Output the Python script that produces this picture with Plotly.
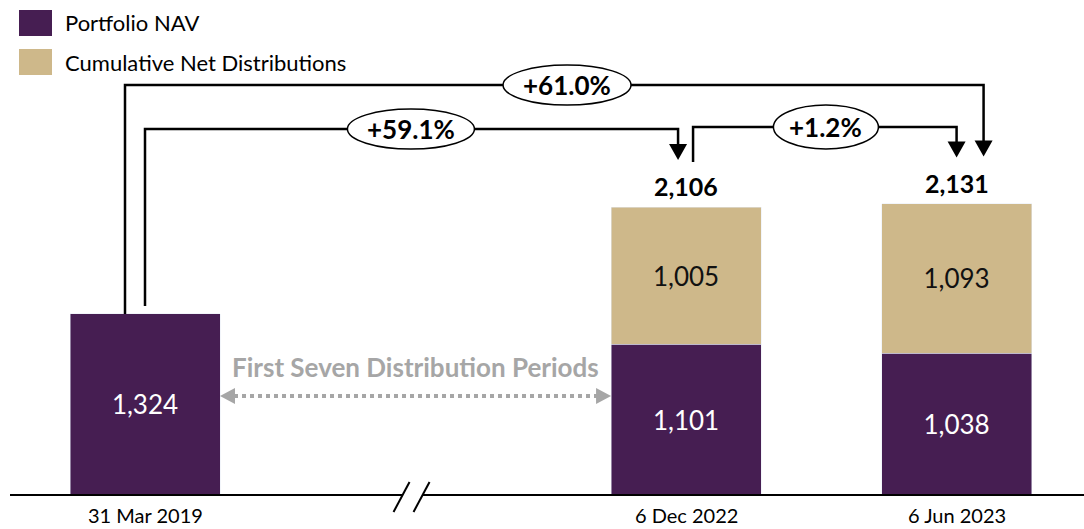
import plotly.graph_objects as go

# data
dates = ["31 Mar 2019", "6 Dec 2022", "6 Jun 2023"]
xpos = [0, 2, 3]
nav = [1324, 1101, 1038]
dist = [None, 1005, 1093]
totals = [1324, 2106, 2131]
changes = ["+59.1%", "+61.0%", "+1.2%"]

PURPLE = "#461E52"
TAN = "#CEB88A"
GREY = "#A6A6A6"
FONT = "Lato"

W, H = 1084, 529
# pixel -> data helpers (plot area = whole figure)
XR = [-0.536, 3.471]
YR = [-248.6, 3619.7]
dx = (XR[1] - XR[0]) / W      # data units per pixel, x
dy = (YR[1] - YR[0]) / H      # data units per pixel, y

fig = go.Figure()
fig.add_trace(go.Bar(
    x=xpos, y=nav, name="Portfolio NAV", marker_color=PURPLE, width=150 * dx,
    text=[f"{v:,}" for v in nav], textposition="inside", insidetextanchor="middle",
    textangle=0, textfont=dict(family=FONT, size=26, color="white"),
))
fig.add_trace(go.Bar(
    x=xpos, y=dist, name="Cumulative Net Distributions", marker_color=TAN, width=150 * dx,
    text=[f"{v:,}" if v else "" for v in dist], textposition="inside",
    insidetextanchor="middle", textangle=0,
    textfont=dict(family=FONT, size=26, color="#111111"),
))

shapes = []
ann = []

# baseline axis
shapes.append(dict(type="line", x0=XR[0] + 10 * dx, x1=XR[1], y0=0, y1=0,
                   line=dict(color="black", width=2)))
# axis break mark
bx = 1.0
shapes.append(dict(type="path",
                   path=f"M {bx - 22*dx} {-17*dy} L {bx - 6*dx} {13*dy} L {bx + 14*dx} {13*dy} "
                        f"L {bx - 2*dx} {-17*dy} Z",
                   fillcolor="white", line=dict(width=0)))
for off in (-22, -2):
    shapes.append(dict(type="line", x0=bx + off * dx, y0=-17 * dy,
                       x1=bx + (off + 16) * dx, y1=13 * dy,
                       line=dict(color="black", width=2)))

# date labels
for xp, d in zip(xpos, dates):
    ann.append(dict(x=xp, y=YR[0], yanchor="bottom", text=d, showarrow=False,
                    font=dict(family=FONT, size=20, color="black")))

# total labels
for xp, t in zip(xpos[1:], totals[1:]):
    ann.append(dict(x=xp, y=t + 21 * dy, text=f"<b>{t:,}</b>", showarrow=False,
                    font=dict(family=FONT, size=25, color="black")))

LINE = dict(color="black", width=2.5)


def arrow_down(x, ytip):
    shapes.append(dict(type="path",
                       path=f"M {x - 9*dx} {ytip + 16*dy} L {x + 9*dx} {ytip + 16*dy} L {x} {ytip} Z",
                       fillcolor="black", line=dict(width=0)))


def bracket(x0, ystart, level, x1, ytip):
    shapes.append(dict(type="path",
                       path=f"M {x0} {ystart} L {x0} {level} L {x1} {level} L {x1} {ytip + 15*dy}",
                       line=LINE))
    arrow_down(x1, ytip)


def bubble(xc, yc, w, h, label):
    shapes.append(dict(type="circle", x0=xc - w / 2 * dx, x1=xc + w / 2 * dx,
                       y0=yc - h / 2 * dy, y1=yc + h / 2 * dy,
                       fillcolor="white", line=dict(color="black", width=1.5)))
    ann.append(dict(x=xc, y=yc, text=f"<b>{label}</b>", showarrow=False,
                    font=dict(family=FONT, size=26, color="black")))


L61, L59, L12 = 2998, 2676, 2691
# +61.0%: 31 Mar 2019 -> 6 Jun 2023
bracket(xpos[0] - 20 * dx, totals[0], L61, xpos[2] + 27 * dx, totals[2] + 47 * dy)
# +59.1%: 31 Mar 2019 -> 6 Dec 2022
bracket(xpos[0], totals[0] + 8 * dy, L59, xpos[1] - 8 * dx, totals[1] + 47 * dy)
# +1.2%: 6 Dec 2022 -> 6 Jun 2023
bracket(xpos[1] + 7 * dx, totals[1] + 45 * dy, L12, xpos[2], totals[2] + 46 * dy)

bubble(1.560, L61, 128, 40, changes[1])
bubble(0.983, L59, 127, 40, changes[0])
bubble(2.517, L12, 105, 44, changes[2])

# grey dotted double arrow between periods
ya = 724
xa0 = xpos[0] + 75 * dx
xa1 = xpos[1] - 75 * dx
shapes.append(dict(type="line", x0=xa0 + 14 * dx, x1=xa1 - 14 * dx, y0=ya, y1=ya,
                   line=dict(color=GREY, width=4, dash="4px,4px")))
shapes.append(dict(type="path",
                   path=f"M {xa0} {ya} L {xa0 + 15*dx} {ya + 8*dy} L {xa0 + 15*dx} {ya - 8*dy} Z",
                   fillcolor=GREY, line=dict(width=0)))
shapes.append(dict(type="path",
                   path=f"M {xa1} {ya} L {xa1 - 15*dx} {ya + 8*dy} L {xa1 - 15*dx} {ya - 8*dy} Z",
                   fillcolor=GREY, line=dict(width=0)))
ann.append(dict(x=(xa0 + xa1) / 2, y=936, text="<b>First Seven Distribution Periods</b>",
                showarrow=False, font=dict(family=FONT, size=26, color=GREY)))

# legend (drawn manually)
for i, (name, col) in enumerate([("Portfolio NAV", PURPLE), ("Cumulative Net Distributions", TAN)]):
    top = 10 + i * 39
    shapes.append(dict(type="rect", xref="paper", yref="paper",
                       x0=19 / W, x1=52 / W, y0=1 - (top + 26) / H, y1=1 - top / H,
                       fillcolor=col, line=dict(width=0)))
    ann.append(dict(xref="paper", yref="paper", x=63 / W, y=1 - (top + 13) / H,
                    xanchor="left", yanchor="middle", text=name, showarrow=False,
                    font=dict(family=FONT, size=22, color="black")))

fig.update_layout(
    width=W, height=H, barmode="stack", showlegend=False,
    margin=dict(l=0, r=0, t=0, b=0),
    paper_bgcolor="white", plot_bgcolor="white",
    xaxis=dict(range=XR, visible=False, fixedrange=True),
    yaxis=dict(range=YR, visible=False, fixedrange=True),
    shapes=shapes, annotations=ann,
    font=dict(family=FONT),
)

fig.write_html("out.html", config={"displayModeBar": False},
               post_script="document.body.style.margin='0';document.body.style.overflow='hidden';")
